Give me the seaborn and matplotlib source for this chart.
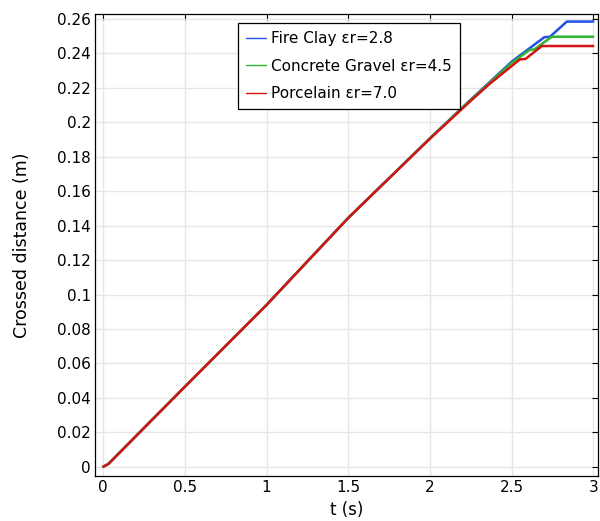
import numpy as np
import pandas as pd
import matplotlib
matplotlib.use("Agg")
import matplotlib.pyplot as plt
import seaborn as sns
from matplotlib.ticker import FuncFormatter

# ---- data ----
labels = ["Fire Clay \u03b5r=2.8", "Concrete Gravel \u03b5r=4.5", "Porcelain \u03b5r=7.0"]

t_fire = [0, 0.03, 0.5, 1.0, 1.5, 2.0, 2.25, 2.5, 2.7, 2.735, 2.838, 3.0]
y_fire = [0, 0.0015, 0.0465, 0.094, 0.1445, 0.1907, 0.2132, 0.2352, 0.2494, 0.2497, 0.2585, 0.2585]

t_gravel = [0, 0.03, 0.5, 1.0, 1.5, 2.0, 2.25, 2.5, 2.61, 2.64, 2.746, 3.0]
y_gravel = [0, 0.0015, 0.0465, 0.094, 0.1445, 0.1907, 0.2130, 0.2345, 0.2420, 0.2424, 0.2497, 0.2497]

t_porc = [0, 0.03, 0.5, 1.0, 1.5, 2.0, 2.25, 2.364, 2.55, 2.585, 2.685, 3.0]
y_porc = [0, 0.0015, 0.0465, 0.094, 0.1445, 0.1905, 0.2125, 0.2222, 0.2365, 0.2368, 0.2443, 0.2443]

x_ticks = [0, 0.5, 1, 1.5, 2, 2.5, 3]
y_ticks = [0, 0.02, 0.04, 0.06, 0.08, 0.1, 0.12, 0.14, 0.16, 0.18, 0.2, 0.22, 0.24, 0.26]

colors = ["#2150e6", "#2fb52f", "#d41414"]

sns.set_style("white")
plt.rcParams["font.family"] = ["DejaVu Sans"]
plt.rcParams["text.color"] = "black"
plt.rcParams["axes.labelcolor"] = "black"

fig = plt.figure(figsize=(6.0, 5.21), dpi=100)
ax = fig.add_axes([95 / 600, 1 - 476 / 521, 503 / 600, 462 / 521])

series = [(t_fire, y_fire), (t_gravel, y_gravel), (t_porc, y_porc)]
for (tt, yy), lab, c in zip(series, labels, colors):
    sns.lineplot(x=tt, y=yy, ax=ax, color=c, linewidth=1.8, label=lab, sort=False)

ax.set_xlim(-0.0508, 3.029)
ax.set_ylim(-0.0054, 0.2629)
ax.set_xticks(x_ticks)
ax.set_yticks(y_ticks)
fmt = FuncFormatter(lambda v, p: f"{v:g}")
ax.xaxis.set_major_formatter(fmt)
ax.yaxis.set_major_formatter(fmt)
ax.grid(True, color="#e6e6e6", linewidth=1.0)
ax.set_axisbelow(True)
ax.tick_params(direction="in", length=4, width=0.8, top=True, right=True,
               labeltop=False, labelright=False, labelsize=11, colors="black", pad=3)
for s in ax.spines.values():
    s.set_visible(True)
    s.set_color("black")
    s.set_linewidth(0.9)

ax.set_xlabel("t (s)", fontsize=12, labelpad=4, color="black")
ax.set_ylabel("Crossed distance (m)", fontsize=12.5, labelpad=19, color="black")

leg = ax.legend(loc="upper left", bbox_to_anchor=((238 - 95) / 503, (476 - 23) / 462),
                borderaxespad=0, frameon=True, fancybox=False, edgecolor="black",
                fontsize=11, handlelength=1.3, handletextpad=0.3, labelspacing=0.8,
                borderpad=0.55)
leg.get_frame().set_linewidth(0.9)
leg.get_frame().set_alpha(1.0)
for h in leg.get_lines():
    h.set_linewidth(1.0)
for txt in leg.get_texts():
    txt.set_color("black")

fig.savefig("out.png", dpi=100)
